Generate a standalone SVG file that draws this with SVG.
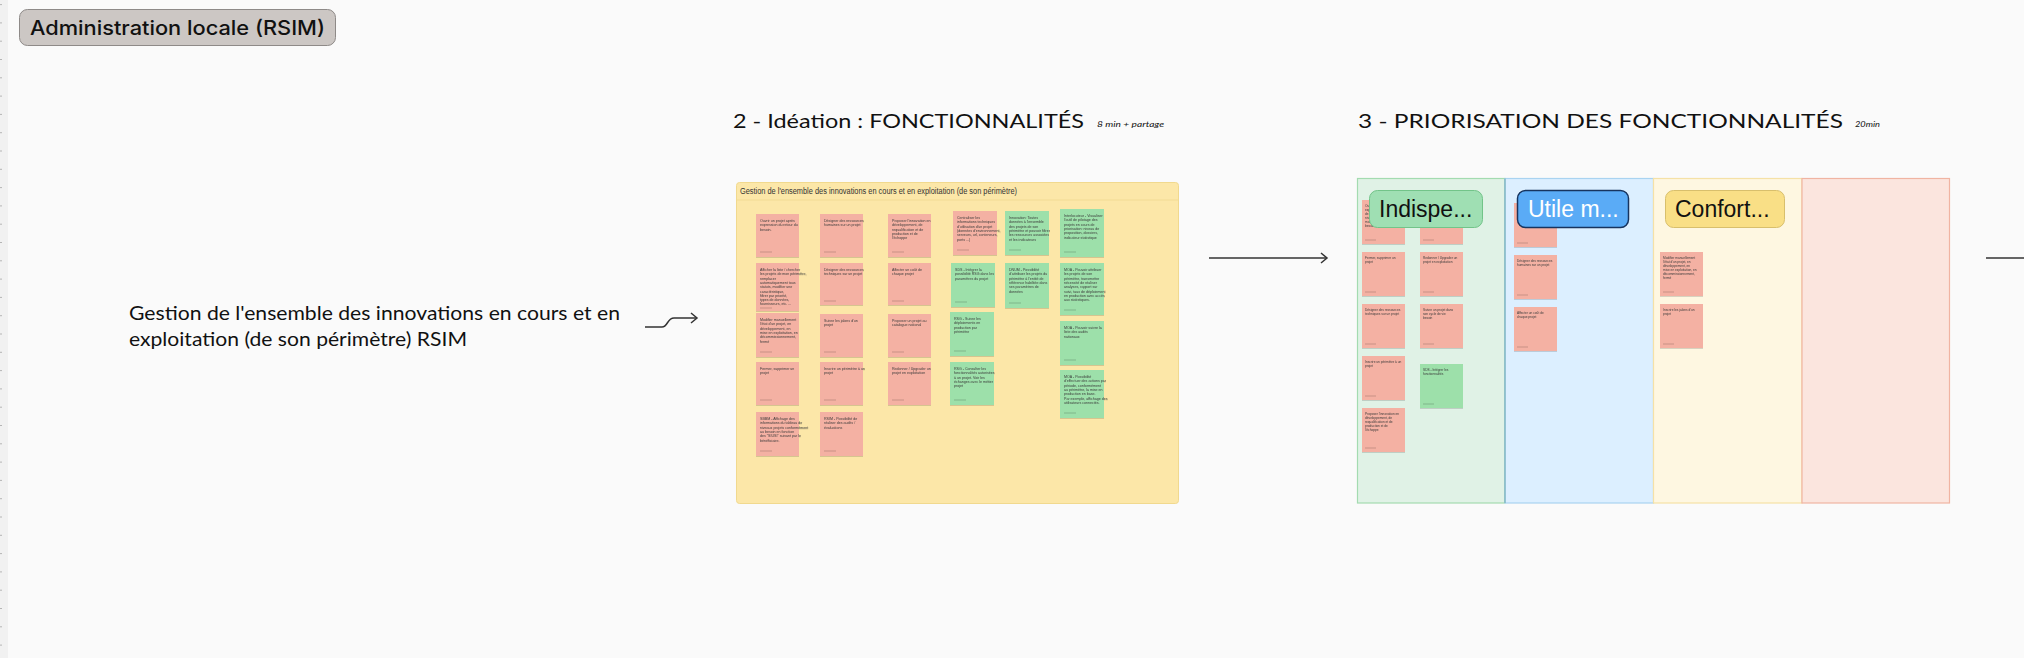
<svg xmlns="http://www.w3.org/2000/svg" width="2024" height="658" viewBox="0 0 2024 658">
<defs>
<style>
.bg{fill:#fafafa}
.pk{fill:#f4b1a3}
.gn{fill:#9de0aa}
.nt{font-family:"Liberation Sans",Arial,sans-serif;font-size:3.6px;fill:#3a3a3a}
.ns{font-family:"Liberation Sans",Arial,sans-serif;font-size:3.2px;fill:#3a3a3a}
.ft{stroke:#000;stroke-opacity:0.18;stroke-width:1}
.hand{font-family:Lato,"Liberation Sans",Arial,sans-serif;font-weight:400;fill:#111}
.conn{fill:none;stroke:#333;stroke-width:1.5}
.pill{font-family:"Liberation Sans",Arial,sans-serif;font-size:23px}
</style>
<filter id="sh" x="-10%" y="-10%" width="120%" height="130%">
<feDropShadow dx="0" dy="1" stdDeviation="0.6" flood-color="#000" flood-opacity="0.15"/>
</filter>
<marker id="arr" markerWidth="10" markerHeight="12" refX="8" refY="6" orient="auto" markerUnits="userSpaceOnUse">
<path d="M2 1 L8 6 L2 11" fill="none" stroke="#333" stroke-width="1.5"/>
</marker>
</defs>
<rect class="bg" x="0" y="0" width="2024" height="658"/>
<g id="ruler">
<rect x="0" y="0" width="8" height="658" fill="#f1f1f1"/>
<path d="M0 4.6h2M0 22.9h2M0 41.2h2M0 59.5h2M0 77.8h2M0 96.1h2M0 114.4h2M0 132.7h2M0 151h2M0 169.3h2M0 187.6h2M0 205.9h2M0 224.2h2M0 242.5h2M0 260.8h2M0 279.1h2M0 297.4h2M0 315.7h2M0 334h2M0 352.3h2M0 370.6h2M0 388.9h2M0 407.2h2M0 425.5h2M0 443.8h2M0 462.1h2M0 480.4h2M0 498.7h2M0 517h2M0 535.3h2M0 553.6h2M0 571.9h2M0 590.2h2M0 608.5h2M0 626.8h2M0 645.1h2" stroke="#b5b5b5" stroke-width="1"/>
</g>

<g id="title">
<rect x="19.5" y="9.5" width="316" height="36" rx="8" fill="#ccc7c4" stroke="#8e8a88" stroke-width="1"/>
<text x="30" y="35" font-family="Inter,'Liberation Sans',sans-serif" font-weight="500" font-size="20" fill="#111" textLength="295" lengthAdjust="spacingAndGlyphs">Administration locale (RSIM)</text>
</g>

<g id="heading-ideation">
<text class="hand" x="733" y="128" font-size="20" textLength="351" lengthAdjust="spacingAndGlyphs">2 - Idéation : FONCTIONNALITÉS</text>
<text class="hand" x="1097" y="127" font-size="8" font-style="italic" textLength="67" lengthAdjust="spacingAndGlyphs">8 min + partage</text>
</g>

<g id="heading-priorisation">
<text class="hand" x="1358" y="128" font-size="20" textLength="485" lengthAdjust="spacingAndGlyphs">3 - PRIORISATION DES FONCTIONNALITÉS</text>
<text class="hand" x="1855" y="127" font-size="8" font-style="italic" textLength="25" lengthAdjust="spacingAndGlyphs">20min</text>
</g>

<g id="sujet">
<text class="hand" x="129" y="320" font-size="20" textLength="491" lengthAdjust="spacingAndGlyphs">Gestion de l'ensemble des innovations en cours et en</text>
<text class="hand" x="129" y="346" font-size="20" textLength="338" lengthAdjust="spacingAndGlyphs">exploitation (de son périmètre) RSIM</text>
</g>

<g id="connectors">
<path class="conn" d="M645 327 H662 C668 327 667 318 674 318 H697" marker-end="url(#arr)"/>
<path class="conn" d="M1209 258 H1327" marker-end="url(#arr)"/>
<path class="conn" d="M1986 258 H2024"/>
</g>

<g id="frame-ideation">
<rect x="736.5" y="182.5" width="442" height="321" rx="3" fill="#fce7a8" stroke="#f1d98e" stroke-width="1"/>
<line x1="737" y1="200" x2="1178" y2="200" stroke="#f0d990" stroke-width="0.8"/>
<text x="740" y="194" font-family="'Liberation Sans',Arial,sans-serif" font-size="8.4" fill="#333" textLength="277" lengthAdjust="spacingAndGlyphs">Gestion de l'ensemble des innovations en cours et en exploitation (de son périmètre)</text>
</g>

<g id="notes-ideation" filter="url(#sh)">
<g id="n1"><rect class="pk" x="756" y="214" width="43" height="43"/><text class="nt" x="760" y="222"><tspan x="760">Ouvrir un projet après</tspan><tspan x="760" dy="4.3">expression du retour du</tspan><tspan x="760" dy="4.3">besoin.</tspan></text><line class="ft" x1="760" y1="252" x2="772" y2="252"/></g>
<g id="n2"><rect class="pk" x="756" y="263" width="43" height="48"/><text class="nt" x="760" y="271"><tspan x="760">Afficher la liste / chercher</tspan><tspan x="760" dy="4.3">les projets de mon périmètre,</tspan><tspan x="760" dy="4.3">remplacer</tspan><tspan x="760" dy="4.3">automatiquement tous</tspan><tspan x="760" dy="4.3">statuts, modifier une</tspan><tspan x="760" dy="4.3">caractéristique,</tspan><tspan x="760" dy="4.3">filtrer par priorité,</tspan><tspan x="760" dy="4.3">types de données,</tspan><tspan x="760" dy="4.3">fournisseurs, etc. ...</tspan></text><line class="ft" x1="760" y1="308" x2="772" y2="308"/></g>
<g id="n3"><rect class="pk" x="756" y="313" width="43" height="44"/><text class="nt" x="760" y="321"><tspan x="760">Modifier manuellement</tspan><tspan x="760" dy="4.3">l'état d'un projet, en</tspan><tspan x="760" dy="4.3">développement, en</tspan><tspan x="760" dy="4.3">mise en exploitation, en</tspan><tspan x="760" dy="4.3">décommissionnement,</tspan><tspan x="760" dy="4.3">fermé</tspan></text><line class="ft" x1="760" y1="352" x2="772" y2="352"/></g>
<g id="n4"><rect class="pk" x="756" y="362" width="43" height="43"/><text class="nt" x="760" y="370"><tspan x="760">Fermer, supprimer un</tspan><tspan x="760" dy="4.3">projet</tspan></text><line class="ft" x1="760" y1="400" x2="772" y2="400"/></g>
<g id="n5"><rect class="pk" x="756" y="412" width="43" height="44"/><text class="nt" x="760" y="420"><tspan x="760">SBBM - Affichage des</tspan><tspan x="760" dy="4.3">informations du tableau de</tspan><tspan x="760" dy="4.3">niveaux projets conformément</tspan><tspan x="760" dy="4.3">au besoin en fonction</tspan><tspan x="760" dy="4.3">des "SIUSI" suivant par le</tspan><tspan x="760" dy="4.3">bénéficiaire.</tspan></text><line class="ft" x1="760" y1="451" x2="772" y2="451"/></g>

<g id="n6"><rect class="pk" x="820" y="214" width="43" height="43"/><text class="nt" x="824" y="222"><tspan x="824">Désigner des ressources</tspan><tspan x="824" dy="4.3">humaines sur un projet</tspan></text><line class="ft" x1="824" y1="252" x2="836" y2="252"/></g>
<g id="n7"><rect class="pk" x="820" y="263" width="43" height="42"/><text class="nt" x="824" y="271"><tspan x="824">Désigner des ressources</tspan><tspan x="824" dy="4.3">techniques sur un projet</tspan></text><line class="ft" x1="824" y1="301" x2="836" y2="301"/></g>
<g id="n8"><rect class="pk" x="820" y="314" width="43" height="43"/><text class="nt" x="824" y="322"><tspan x="824">Suivre les jalons d'un</tspan><tspan x="824" dy="4.3">projet</tspan></text><line class="ft" x1="824" y1="352" x2="836" y2="352"/></g>
<g id="n9"><rect class="pk" x="820" y="362" width="43" height="43"/><text class="nt" x="824" y="370"><tspan x="824">Inscrire un périmètre à un</tspan><tspan x="824" dy="4.3">projet</tspan></text><line class="ft" x1="824" y1="400" x2="836" y2="400"/></g>
<g id="n10"><rect class="pk" x="820" y="412" width="43" height="44"/><text class="nt" x="824" y="420"><tspan x="824">RSIM - Possibilité de</tspan><tspan x="824" dy="4.3">réaliser des audits /</tspan><tspan x="824" dy="4.3">évaluations</tspan></text><line class="ft" x1="824" y1="451" x2="836" y2="451"/></g>

<g id="n11"><rect class="pk" x="888" y="214" width="43" height="43"/><text class="nt" x="892" y="222"><tspan x="892">Proposer l'innovation en</tspan><tspan x="892" dy="4.3">développement, de</tspan><tspan x="892" dy="4.3">requalification et de</tspan><tspan x="892" dy="4.3">production et de</tspan><tspan x="892" dy="4.3">l'échoppe</tspan></text><line class="ft" x1="892" y1="252" x2="904" y2="252"/></g>
<g id="n12"><rect class="pk" x="888" y="263" width="43" height="42"/><text class="nt" x="892" y="271"><tspan x="892">Affecter un coût de</tspan><tspan x="892" dy="4.3">chaque projet</tspan></text><line class="ft" x1="892" y1="301" x2="904" y2="301"/></g>
<g id="n13"><rect class="pk" x="888" y="314" width="43" height="43"/><text class="nt" x="892" y="322"><tspan x="892">Proposer un projet au</tspan><tspan x="892" dy="4.3">catalogue national</tspan></text><line class="ft" x1="892" y1="352" x2="904" y2="352"/></g>
<g id="n14"><rect class="pk" x="888" y="362" width="43" height="43"/><text class="nt" x="892" y="370"><tspan x="892">Redonner / Upgrader un</tspan><tspan x="892" dy="4.3">projet en exploitation</tspan></text><line class="ft" x1="892" y1="400" x2="904" y2="400"/></g>

<g id="n15"><rect class="pk" x="953" y="211" width="44" height="44"/><text class="nt" x="957" y="219"><tspan x="957">Centraliser les</tspan><tspan x="957" dy="4.3">informations techniques</tspan><tspan x="957" dy="4.3">d'utilisation d'un projet</tspan><tspan x="957" dy="4.3">(données d'environnement,</tspan><tspan x="957" dy="4.3">serveurs, url, conteneurs,</tspan><tspan x="957" dy="4.3">ports ...)</tspan></text><line class="ft" x1="957" y1="250" x2="969" y2="250"/></g>
<g id="n16"><rect class="gn" x="951" y="263" width="44" height="44"/><text class="nt" x="955" y="271"><tspan x="955">SDS - Intégrer la</tspan><tspan x="955" dy="4.3">possibilité RSG dans les</tspan><tspan x="955" dy="4.3">paramètres du projet</tspan></text><line class="ft" x1="955" y1="302" x2="967" y2="302"/></g>
<g id="n17"><rect class="gn" x="950" y="312" width="44" height="44"/><text class="nt" x="954" y="320"><tspan x="954">RSG - Suivre les</tspan><tspan x="954" dy="4.3">déploiements en</tspan><tspan x="954" dy="4.3">production par</tspan><tspan x="954" dy="4.3">périmètre</tspan></text><line class="ft" x1="954" y1="351" x2="966" y2="351"/></g>
<g id="n18"><rect class="gn" x="950" y="362" width="44" height="43"/><text class="nt" x="954" y="370"><tspan x="954">RSG - Consulter les</tspan><tspan x="954" dy="4.3">fonctionnalités autorisées</tspan><tspan x="954" dy="4.3">à un projet. Voir les</tspan><tspan x="954" dy="4.3">échanges avec le métier</tspan><tspan x="954" dy="4.3">projet</tspan></text><line class="ft" x1="954" y1="400" x2="966" y2="400"/></g>

<g id="n19"><rect class="gn" x="1005" y="211" width="44" height="44"/><text class="nt" x="1009" y="219"><tspan x="1009">Innovation: Toutes</tspan><tspan x="1009" dy="4.3">données à l'ensemble</tspan><tspan x="1009" dy="4.3">des projets de son</tspan><tspan x="1009" dy="4.3">périmètre et pouvoir filtrer</tspan><tspan x="1009" dy="4.3">les ressources associées</tspan><tspan x="1009" dy="4.3">et les indicateurs</tspan></text><line class="ft" x1="1009" y1="250" x2="1021" y2="250"/></g>
<g id="n20"><rect class="gn" x="1005" y="263" width="44" height="45"/><text class="nt" x="1009" y="271"><tspan x="1009">DNUM - Possibilité</tspan><tspan x="1009" dy="4.3">d'attribuer les projets du</tspan><tspan x="1009" dy="4.3">périmètre à l'entité de</tspan><tspan x="1009" dy="4.3">référence habilitée dans</tspan><tspan x="1009" dy="4.3">ses paramètres de</tspan><tspan x="1009" dy="4.3">données</tspan></text><line class="ft" x1="1009" y1="303" x2="1021" y2="303"/></g>

<g id="n21"><rect class="gn" x="1060" y="209" width="44" height="48"/><text class="nt" x="1064" y="217"><tspan x="1064">Interlocuteur - Visualiser</tspan><tspan x="1064" dy="4.3">l'outil de pilotage des</tspan><tspan x="1064" dy="4.3">projets en cours de</tspan><tspan x="1064" dy="4.3">priorisation: niveau de</tspan><tspan x="1064" dy="4.3">proposition, dossiers,</tspan><tspan x="1064" dy="4.3">indicateur statistique</tspan></text><line class="ft" x1="1064" y1="252" x2="1076" y2="252"/></g>
<g id="n22"><rect class="gn" x="1060" y="263" width="44" height="52"/><text class="nt" x="1064" y="271"><tspan x="1064">MOA - Pouvoir attribuer</tspan><tspan x="1064" dy="4.3">les projets de son</tspan><tspan x="1064" dy="4.3">périmètre, transmettre</tspan><tspan x="1064" dy="4.3">nécessité de réaliser</tspan><tspan x="1064" dy="4.3">analyses, rapport sur</tspan><tspan x="1064" dy="4.3">suivi, taux de déploiement</tspan><tspan x="1064" dy="4.3">en production avec accès</tspan><tspan x="1064" dy="4.3">aux statistiques.</tspan></text><line class="ft" x1="1064" y1="310" x2="1076" y2="310"/></g>
<g id="n23"><rect class="gn" x="1060" y="321" width="44" height="44"/><text class="nt" x="1064" y="329"><tspan x="1064">MOA - Pouvoir suivre la</tspan><tspan x="1064" dy="4.3">liste des audits</tspan><tspan x="1064" dy="4.3">nationaux</tspan></text><line class="ft" x1="1064" y1="360" x2="1076" y2="360"/></g>
<g id="n24"><rect class="gn" x="1060" y="370" width="44" height="48"/><text class="nt" x="1064" y="378"><tspan x="1064">MOA - Possibilité</tspan><tspan x="1064" dy="4.3">d'effectuer des actions par</tspan><tspan x="1064" dy="4.3">période, conformément</tspan><tspan x="1064" dy="4.3">au périmètre, la mise en</tspan><tspan x="1064" dy="4.3">production en base.</tspan><tspan x="1064" dy="4.3">Par exemple, affichage des</tspan><tspan x="1064" dy="4.3">utilisateurs connectés.</tspan></text><line class="ft" x1="1064" y1="413" x2="1076" y2="413"/></g>
</g>

<g id="col-indispensable">
<rect x="1357.5" y="178.5" width="147.5" height="324.5" fill="#e0f2e6" stroke="#a3dbb0" stroke-width="1.2"/>
</g>
<g id="col-utile">
<rect x="1505" y="178.5" width="148.5" height="324.5" fill="#dcefff" stroke="#a9d3f1" stroke-width="1.2"/>
<line x1="1505" y1="178.5" x2="1505" y2="503" stroke="#6fa8b0" stroke-width="1"/>
</g>
<g id="col-confort">
<rect x="1653.5" y="178.5" width="148.5" height="324.5" fill="#fef7e1" stroke="#f5e1a6" stroke-width="1.2"/>
</g>
<g id="col-4">
<rect x="1802" y="178.5" width="147.5" height="324.5" fill="#fbe5de" stroke="#f0b4a2" stroke-width="1.2"/>
</g>

<g id="notes-priorisation" filter="url(#sh)">
<g id="p1"><rect class="pk" x="1362" y="200" width="43" height="44"/><text class="ns" x="1365" y="207"><tspan x="1365">Ouvrir un projet après</tspan><tspan x="1365" dy="3.9">expression du retour</tspan><tspan x="1365" dy="3.9">de la liste, du</tspan><tspan x="1365" dy="3.9">niveau de</tspan><tspan x="1365" dy="3.9">maturité</tspan><tspan x="1365" dy="3.9">besoin du projet</tspan></text><line class="ft" x1="1365" y1="240" x2="1376" y2="240"/></g>
<g id="p2"><rect class="pk" x="1362" y="252" width="43" height="44"/><text class="ns" x="1365" y="259"><tspan x="1365">Fermer, supprimer un</tspan><tspan x="1365" dy="3.9">projet</tspan></text><line class="ft" x1="1365" y1="292" x2="1376" y2="292"/></g>
<g id="p3"><rect class="pk" x="1362" y="304" width="43" height="44"/><text class="ns" x="1365" y="311"><tspan x="1365">Désigner des ressources</tspan><tspan x="1365" dy="3.9">techniques sur un projet</tspan></text><line class="ft" x1="1365" y1="344" x2="1376" y2="344"/></g>
<g id="p4"><rect class="pk" x="1362" y="356" width="43" height="44"/><text class="ns" x="1365" y="363"><tspan x="1365">Inscrire un périmètre à un</tspan><tspan x="1365" dy="3.9">projet</tspan></text><line class="ft" x1="1365" y1="396" x2="1376" y2="396"/></g>
<g id="p5"><rect class="pk" x="1362" y="408" width="43" height="44"/><text class="ns" x="1365" y="415"><tspan x="1365">Proposer l'innovation en</tspan><tspan x="1365" dy="3.9">développement, de</tspan><tspan x="1365" dy="3.9">requalification et de</tspan><tspan x="1365" dy="3.9">production et de</tspan><tspan x="1365" dy="3.9">l'échoppe</tspan></text><line class="ft" x1="1365" y1="448" x2="1376" y2="448"/></g>
<g id="p6"><rect class="pk" x="1420" y="200" width="43" height="44"/><text class="ns" x="1423" y="207"><tspan x="1423">Centraliser les</tspan><tspan x="1423" dy="3.9">informations techniques</tspan><tspan x="1423" dy="3.9">d'utilisation d'un projet</tspan><tspan x="1423" dy="3.9">(données, serveurs,</tspan><tspan x="1423" dy="3.9">url, conteneurs,</tspan><tspan x="1423" dy="3.9">ports ...)</tspan></text><line class="ft" x1="1423" y1="240" x2="1434" y2="240"/></g>
<g id="p7"><rect class="pk" x="1420" y="252" width="43" height="44"/><text class="ns" x="1423" y="259"><tspan x="1423">Redonner / Upgrader un</tspan><tspan x="1423" dy="3.9">projet en exploitation</tspan></text><line class="ft" x1="1423" y1="292" x2="1434" y2="292"/></g>
<g id="p8"><rect class="pk" x="1420" y="304" width="43" height="44"/><text class="ns" x="1423" y="311"><tspan x="1423">Suivre un projet dans</tspan><tspan x="1423" dy="3.9">son cycle de vie</tspan><tspan x="1423" dy="3.9">besoin</tspan></text><line class="ft" x1="1423" y1="344" x2="1434" y2="344"/></g>
<g id="p9"><rect class="gn" x="1420" y="364" width="43" height="44"/><text class="ns" x="1423" y="371"><tspan x="1423">SDS - Intégrer les</tspan><tspan x="1423" dy="3.9">fonctionnalités</tspan></text><line class="ft" x1="1423" y1="404" x2="1434" y2="404"/></g>
<g id="p10"><rect class="pk" x="1514" y="203" width="43" height="44"/><text class="ns" x="1517" y="210"><tspan x="1517">Afficher la liste des</tspan><tspan x="1517" dy="3.9">projets de mon</tspan><tspan x="1517" dy="3.9">périmètre</tspan></text><line class="ft" x1="1517" y1="243" x2="1528" y2="243"/></g>
<g id="p11"><rect class="pk" x="1514" y="255" width="43" height="44"/><text class="ns" x="1517" y="262"><tspan x="1517">Désigner des ressources</tspan><tspan x="1517" dy="3.9">humaines sur un projet</tspan></text><line class="ft" x1="1517" y1="295" x2="1528" y2="295"/></g>
<g id="p12"><rect class="pk" x="1514" y="307" width="43" height="44"/><text class="ns" x="1517" y="314"><tspan x="1517">Affecter un coût de</tspan><tspan x="1517" dy="3.9">chaque projet</tspan></text><line class="ft" x1="1517" y1="347" x2="1528" y2="347"/></g>
<g id="p13"><rect class="pk" x="1660" y="252" width="43" height="44"/><text class="ns" x="1663" y="259"><tspan x="1663">Modifier manuellement</tspan><tspan x="1663" dy="3.9">l'état d'un projet, en</tspan><tspan x="1663" dy="3.9">développement, en</tspan><tspan x="1663" dy="3.9">mise en exploitation, en</tspan><tspan x="1663" dy="3.9">décommissionnement,</tspan><tspan x="1663" dy="3.9">fermé</tspan></text><line class="ft" x1="1663" y1="292" x2="1674" y2="292"/></g>
<g id="p14"><rect class="pk" x="1660" y="304" width="43" height="44"/><text class="ns" x="1663" y="311"><tspan x="1663">Inscrire les jalons d'un</tspan><tspan x="1663" dy="3.9">projet</tspan></text><line class="ft" x1="1663" y1="344" x2="1674" y2="344"/></g>
</g>

<g id="label-indispensable">
<rect x="1369.5" y="190.5" width="113" height="37" rx="8" fill="#9fdfb3" stroke="#72c489" stroke-width="1"/>
<text class="pill" x="1379" y="217" fill="#111">Indispe...</text>
</g>
<g id="label-utile">
<rect x="1517.5" y="190.5" width="111" height="37" rx="8" fill="#5aabf6" stroke="#17345f" stroke-width="1.5"/>
<text class="pill" x="1528" y="217" fill="#ffffff">Utile m...</text>
</g>
<g id="label-confort">
<rect x="1665.5" y="190.5" width="119" height="37" rx="8" fill="#f9df86" stroke="#d8bf6c" stroke-width="1"/>
<text class="pill" x="1675" y="217" fill="#111">Confort...</text>
</g>
</svg>
